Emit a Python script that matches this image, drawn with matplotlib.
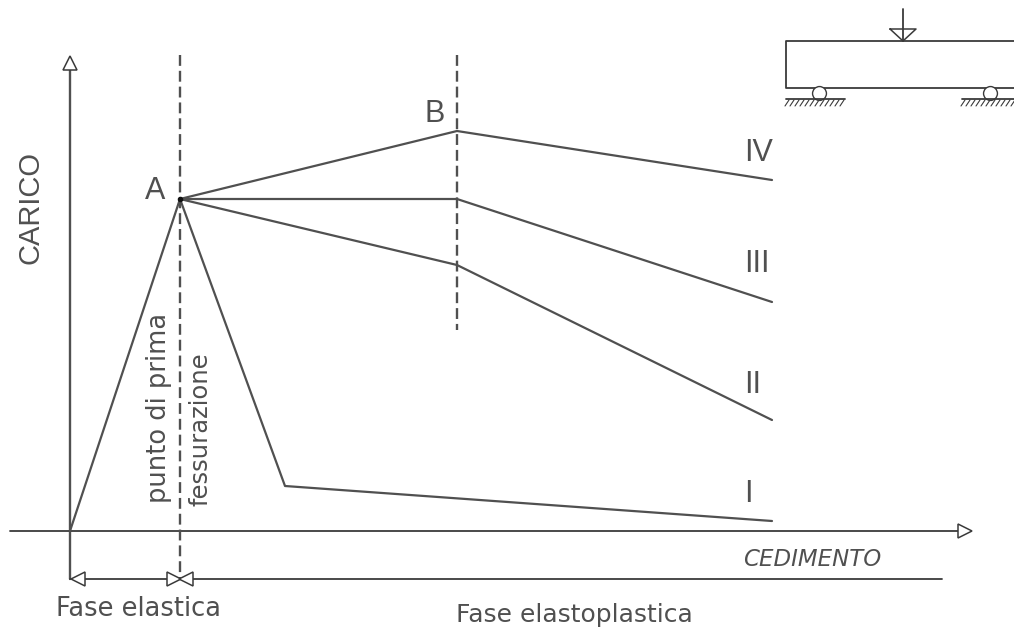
#!/usr/bin/env python3
"""Load-settlement diagram (carico / cedimento) with the four post-cracking branches."""
import matplotlib
matplotlib.use("Agg")
import matplotlib.pyplot as plt

# all values in picture pixels (y down)
ORIGIN = (70, 531)
POINT_A = (180, 199)
BRANCH_I_X = [180, 285, 772]
BRANCH_I_Y = [199, 486, 521]
BRANCH_II_X = [180, 457, 772]
BRANCH_II_Y = [199, 265, 420]
BRANCH_III_X = [180, 457, 772]
BRANCH_III_Y = [199, 199, 302]
BRANCH_IV_X = [180, 457, 772]
BRANCH_IV_Y = [199, 131, 180]
BRANCHES = [(BRANCH_I_X, BRANCH_I_Y), (BRANCH_II_X, BRANCH_II_Y),
            (BRANCH_III_X, BRANCH_III_Y), (BRANCH_IV_X, BRANCH_IV_Y)]
BRANCH_LABELS = ["I", "II", "III", "IV"]
BRANCH_LABEL_Y = [494, 385, 264, 153]

GREY = "#3a3a3a"
CURVE = "#505050"
LABEL = "#505050"
FONT = "Liberation Sans"
WIDE = "DejaVu Sans"

fig = plt.figure(figsize=(10.14, 6.29), dpi=100)
ax = fig.add_axes([0, 0, 1, 1])
ax.set_xlim(0, 1014)
ax.set_ylim(629, 0)
ax.axis("off")

def line(xs, ys, lw=1.3, color=GREY, **kw):
    ax.plot(xs, ys, color=color, lw=lw, solid_capstyle="round", **kw)

def head(x, y, marker, size=10):
    ax.plot([x], [y], marker=marker, ms=size, mfc="white", mec=GREY, mew=1.1, zorder=5)

# axes
line([70, 70], [62, 579], lw=1.7, color=CURVE)
line([10, 966], [531, 531])
line([70, 942], [579, 579])
head(70, 63, "^")
head(965, 531, ">")
head(78, 579, "<")
head(174, 579, ">")
head(186, 579, "<")

# dashed guides
ax.plot([180, 180], [55, 579], color=CURVE, lw=1.7, dashes=(4.6, 2.1))
ax.plot([457, 457], [55, 330], color=CURVE, lw=1.7, dashes=(4.6, 2.1))

# curves
line([ORIGIN[0], POINT_A[0]], [ORIGIN[1], POINT_A[1]], lw=1.6, color=CURVE)
for xs, ys in BRANCHES:
    line(xs, ys, lw=1.6, color=CURVE)
ax.plot(*POINT_A, "o", ms=3, color="#111111")

# text
def txt(x, y, s, size, family=FONT, **kw):
    kw.setdefault("ha", "center")
    kw.setdefault("va", "center")
    ax.text(x, y, s, fontsize=size, color=LABEL, family=family, **kw)

txt(155, 191, "A", 22)
txt(435, 114, "B", 22)
for y, s in zip(BRANCH_LABEL_Y, BRANCH_LABELS):
    txt(744, y, s, 22, ha="left")
txt(31, 208, "CARICO", 21, rotation=90)
txt(159, 408, "punto di prima", 18.5, family=WIDE, rotation=90)
txt(200, 429, "fessurazione", 17.5, family=WIDE, rotation=90)
txt(138, 609, "Fase elastica", 18.5, family=WIDE)
txt(574, 615, "Fase elastoplastica", 18, family=WIDE)
txt(812, 559, "CEDIMENTO", 16.5, family=WIDE, style="italic")

# beam sketch, top right
line([1014, 786, 786, 1014], [41, 41, 88, 88])
line([903, 903], [9, 41])
line([890, 916, 903, 890], [29, 29, 41, 29], lw=1.1)
for cx, x0, x1 in [(819, 786, 845), (990, 962, 1014)]:
    ax.plot([cx], [93], "o", ms=10, mfc="white", mec=GREY, mew=1.0, zorder=4)
    line([x0, x1], [99, 99], zorder=5)
    for x in range(x0 + 3, x1 + 3, 5):
        line([x, x - 4], [100, 106], lw=0.8)

fig.savefig("out.png", dpi=100)
